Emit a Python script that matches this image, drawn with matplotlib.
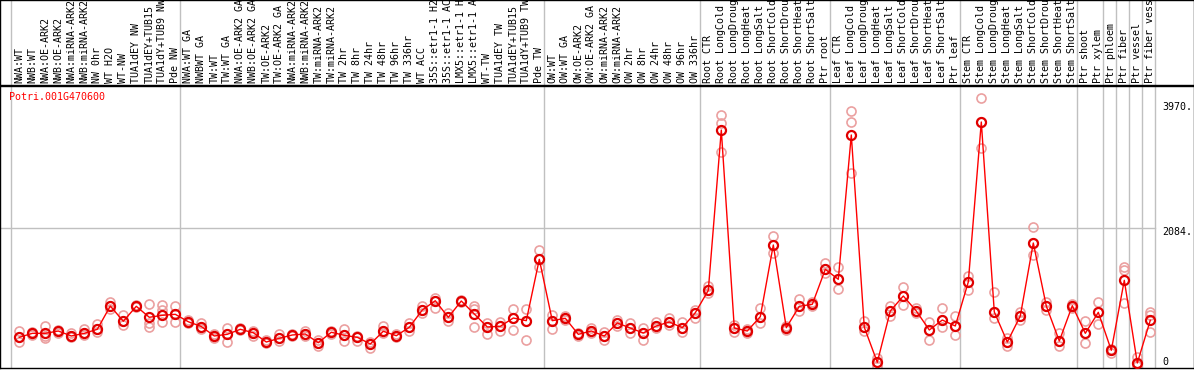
import matplotlib
matplotlib.use("Agg")
import matplotlib.pyplot as plt
import numpy as np

# sample labels, left to right
labels = [
    "NWA:WT", "NWB:WT", "NWA:OE-ARK2", "NWB:OE-ARK2", "NWA:miRNA-ARK2",
    "NWB:miRNA-ARK2", "NW 0hr", "WT H2O", "WT-NW", "TUA1dEY NW",
    "TUA1dEY+TUB15", "TUA1dY+TUB9 NW", "Pde NW",
    "NWA:WT GA", "NWBWT GA", "TW:WT", "TW:WT GA", "NWA:OE-ARK2 GA",
    "NWB:OE-ARK2 GA", "TW:OE-ARK2", "TW:OE-ARK2 GA", "NWA:miRNA-ARK2",
    "NWB:miRNA-ARK2", "TW:miRNA-ARK2", "TW:miRNA-ARK2", "TW 2hr", "TW 8hr",
    "TW 24hr", "TW 48hr", "TW 96hr", "TW 336hr", "WT ACC", "35S::etr1-1 H2",
    "35S::etr1-1 AC", "LMX5::etr1-1 H", "LMX5::etr1-1 A", "WT-TW",
    "TUA1dEY TW", "TUA1dEY+TUB15", "TUA1dY+TUB9 TW", "Pde TW",
    "OW:WT", "OW:WT GA", "OW:OE-ARK2", "OW:OE-ARK2 GA", "OW:miRNA-ARK2",
    "OW:miRNA-ARK2", "OW 2hr", "OW 8hr", "OW 24hr", "OW 48hr", "OW 96hr",
    "OW 336hr",
    "Root CTR", "Root LongCold", "Root LongDroug", "Root LongHeat",
    "Root LongSalt", "Root ShortCold", "Root ShortDrou", "Root ShortHeat",
    "Root ShortSalt", "Ptr root",
    "Leaf CTR", "Leaf LongCold", "Leaf LongDroug", "Leaf LongHeat",
    "Leaf LongSalt", "Leaf ShortCold", "Leaf ShortDrou", "Leaf ShortHeat",
    "Leaf ShortSalt", "Ptr leaf",
    "Stem CTR", "Stem LongCold", "Stem LongDroug", "Stem LongHeat",
    "Stem LongSalt", "Stem ShortCold", "Stem ShortDrou", "Stem ShortHeat",
    "Stem ShortSalt",
    "Ptr shoot", "Ptr xylem", "Ptr phloem", "Ptr fiber", "Ptr vessel",
    "Ptr fiber vess",
]

# number of samples in each separated group
group_sizes = [13, 28, 12, 10, 10, 9, 2, 1, 1, 1, 1]

# mean expression
means = [
    433, 493, 493, 528, 453, 493, 554, 905, 675, 901, 735, 765, 780,
    668, 596, 453, 478, 554, 502, 362, 418, 468, 483, 352, 509, 463, 433,
    332, 524, 457, 584, 845, 985, 735, 981, 785, 589, 599, 724, 684, 1610,
    684, 720, 478, 528, 453, 649, 573, 498, 604, 664, 578, 804,
    1142, 3561, 573, 528, 744, 1826, 578, 901, 931, 1459,
    1308, 3486, 584, 56, 830, 1056, 830, 543, 694, 604,
    1268, 3682, 815, 362, 755, 1856, 905, 377, 910,
    493, 810, 237, 1293, 45, 690,
]

# replicates
rep_a = [
    533, 513, 604, 543, 493, 554, 629, 966, 774, 920, 936, 916, 905,
    694, 644, 478, 569, 569, 533, 385, 478, 490, 533, 392, 528, 558, 453,
    367, 608, 490, 644, 905, 1031, 804, 996, 905, 653, 668, 860, 856, 1750,
    770, 755, 505, 578, 513, 694, 649, 573, 664, 724, 668, 845,
    1207, 3788, 619, 558, 871, 1962, 604, 1006, 966, 1559,
    1489, 3852, 679, 121, 905, 1192, 875, 664, 875, 755,
    1358, 4044, 1117, 423, 815, 2097, 966, 502, 936,
    679, 966, 264, 1498, 131, 819,
]
rep_b = [
    438, 483, 453, 528, 433, 493, 518, 905, 675, 901, 644, 845, 780,
    668, 596, 453, 483, 554, 498, 362, 418, 468, 483, 352, 509, 463, 433,
    332, 524, 457, 584, 845, 985, 735, 981, 856, 589, 599, 724, 684, 1610,
    684, 720, 478, 528, 453, 649, 573, 498, 604, 664, 578, 804,
    1142, 3662, 573, 528, 744, 1826, 578, 901, 931, 1459,
    1308, 3677, 584, 56, 830, 1056, 830, 543, 694, 604,
    1268, 3682, 815, 362, 755, 1856, 905, 377, 910,
    493, 810, 237, 1449, 45, 770,
]
rep_c = [
    367, 468, 418, 493, 453, 468, 554, 856, 614, 890, 593, 668, 664,
    649, 554, 418, 358, 543, 453, 347, 377, 453, 453, 302, 490, 377, 377,
    267, 498, 438, 533, 795, 880, 684, 966, 584, 478, 528, 543, 392, 1489,
    558, 694, 453, 498, 392, 604, 498, 392, 573, 619, 518, 720,
    1097, 3225, 518, 498, 644, 1701, 543, 830, 905, 1399,
    1157, 2908, 533, 0, 755, 920, 800, 392, 589, 468,
    1147, 3290, 724, 302, 694, 1675, 845, 302, 875,
    352, 638, 201, 946, 0, 509,
]

tick_values = [3970, 2084, 0]
tick_text = ["3970.", "2084.", "0"]
gene = "Potri.001G470600"

W, H = 1194, 370
mono = "DejaVu Sans Mono"
fs = 7.2
grey = "#c0c0c0"

fig = plt.figure(figsize=(W / 100, H / 100), dpi=100)

# column i sits at pixel 19.3 + 13*i
x0 = -19.3 / 13
x1 = (W - 19.3) / 13

# plot area: pixel rows 86..368, value 0 at row 366, 15.09 units per px
upp = 15.09
ax = fig.add_axes([0, (H - 368) / H, 1, (368 - 86) / H])
ax.set_xlim(x0, x1)
ax.set_ylim((366 - 368) * upp, (366 - 86) * upp)

hx = fig.add_axes([0, (H - 85) / H, 1, 85 / H])
hx.set_xlim(x0, x1)
hx.set_ylim(0, 85)

for a in (ax, hx):
    a.set_xticks([])
    a.set_yticks([])
    for s in a.spines.values():
        s.set_color("black")
        s.set_linewidth(1)

xs = np.arange(len(labels))
bounds = np.concatenate([[0], np.cumsum(group_sizes)]) - 0.64

for b in bounds:
    ax.axvline(b, color=grey, lw=1, zorder=1)
    hx.axvline(b, color=grey, lw=1, zorder=1)

ax.plot([x0, bounds[-1]], [2084, 2084], color=grey, lw=1, zorder=1)

for rep in (rep_a, rep_b, rep_c):
    ax.plot(xs, rep, "o", ms=6.5, mfc="none", mec="#eba0a0", mew=1.2,
            zorder=2)

ax.plot(xs, means, "-", color="red", lw=1, zorder=3)
ax.plot(xs, means, "o", ms=6.5, mfc="none", mec="#e00000", mew=1.6,
        zorder=4)

for i, lab in enumerate(labels):
    hx.text(i, 2, lab, rotation=90, ha="center", va="bottom",
            family=mono, fontsize=fs, color="black", clip_on=True)

ax.text((9 - 19.3) / 13, (366 - 97) * upp, gene, color="red", family=mono,
        fontsize=fs, va="center", ha="left")

ylab_px = [107, 232, 362]
for t, py in zip(tick_text, ylab_px):
    ax.text((1162 - 19.3) / 13, (366 - py) * upp, t, family=mono,
            fontsize=fs, va="center", ha="left", color="black")

fig.savefig("out.png", dpi=100)
